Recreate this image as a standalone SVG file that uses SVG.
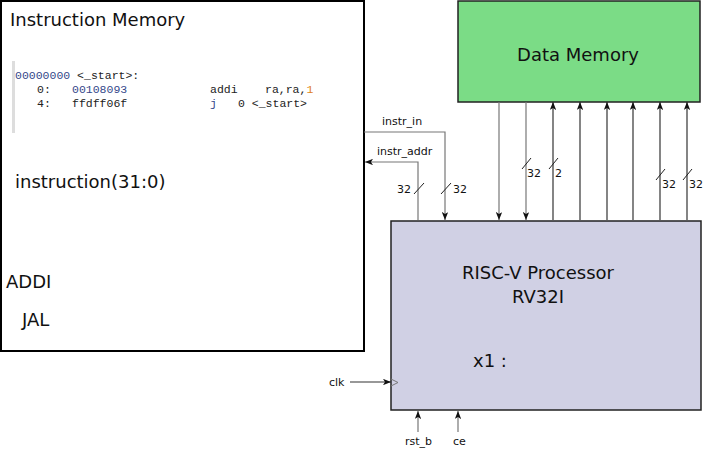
<svg xmlns="http://www.w3.org/2000/svg" width="705" height="449" viewBox="0 0 705 449">
<style>
.t{font-family:"DejaVu Sans",Verdana,sans-serif;fill:#111}
.big{font-size:18px}
.sm{font-size:11px}
.code{font-family:"Liberation Mono","DejaVu Sans Mono",monospace;font-size:11.5px;fill:#222}
.bl{fill:#34488a}
.or{fill:#e08020}
.w{fill:none;stroke:#777;stroke-width:1.2}
.wd{fill:none;stroke:#333;stroke-width:1.2}
.sl{fill:none;stroke:#222;stroke-width:1}
</style>
<defs>
<marker id="ah" viewBox="0 0 10 8" refX="10" refY="4" markerWidth="8" markerHeight="6.4" markerUnits="userSpaceOnUse" orient="auto">
<path d="M0,0 L10,4 L0,8 L2.5,4 z" fill="#111"/>
</marker>
</defs>
<rect width="705" height="449" fill="#fff"/>
<g id="instruction-memory">
<rect x="1" y="1" width="363" height="350" fill="#fff" stroke="#000" stroke-width="2"/>
<text class="t big" x="10" y="26">Instruction Memory</text>
<rect x="12" y="61" width="3" height="72" fill="#ddd"/>
<text class="code" x="15" y="79"><tspan class="bl">00000000</tspan> &lt;_start&gt;:</text>
<text class="code" x="37" y="93">0:</text>
<text class="code bl" x="72" y="93">00108093</text>
<text class="code" x="210" y="93">addi</text>
<text class="code" x="265" y="93">ra,ra,<tspan class="or">1</tspan></text>
<text class="code" x="37" y="107">4:</text>
<text class="code" x="72" y="107">ffdff06f</text>
<text class="code bl" x="210" y="107">j</text>
<text class="code" x="238" y="107">0 &lt;_start&gt;</text>
<text class="t big" x="15" y="188">instruction(31:0)</text>
<text class="t big" x="6" y="288">ADDI</text>
<text class="t big" x="22" y="326">JAL</text>
</g>
<g id="data-memory">
<rect x="458" y="1" width="242" height="101" fill="#7bdc86" stroke="#222" stroke-width="1.5"/>
<text class="t big" x="578" y="61" text-anchor="middle">Data Memory</text>
</g>
<g id="processor">
<rect x="391" y="221" width="310" height="189" fill="#d0d0e4" stroke="#222" stroke-width="1.5"/>
<text class="t big" x="538" y="279" text-anchor="middle">RISC-V Processor</text>
<text class="t big" x="538" y="303" text-anchor="middle">RV32I</text>
<text class="t big" x="473" y="367">x1 :</text>
<path d="M391,379 L398,382.5 L391,386" fill="none" stroke="#777" stroke-width="1"/>
</g>
<g id="connectors">
<path class="w" d="M364,132 H445 V220" marker-end="url(#ah)"/>
<text class="t sm" x="382" y="125">instr_in</text>
<path class="w" d="M418,220 V162 H365" marker-end="url(#ah)"/>
<text class="t sm" x="377" y="155">instr_addr</text>
<line class="sl" x1="414" y1="194" x2="424" y2="183"/>
<text class="t sm" x="397" y="193">32</text>
<line class="sl" x1="441" y1="194" x2="451" y2="183"/>
<text class="t sm" x="453" y="193">32</text>
<path class="w" d="M499,102 V220" marker-end="url(#ah)"/>
<path class="w" d="M526,102 V220" marker-end="url(#ah)"/>
<path class="wd" d="M553,220 V102" marker-end="url(#ah)"/>
<path class="wd" d="M580,220 V102" marker-end="url(#ah)"/>
<path class="wd" d="M607,220 V102" marker-end="url(#ah)"/>
<path class="wd" d="M633,220 V102" marker-end="url(#ah)"/>
<path class="wd" d="M660,220 V102" marker-end="url(#ah)"/>
<path class="wd" d="M687,220 V102" marker-end="url(#ah)"/>
<line class="sl" x1="522" y1="169" x2="531" y2="158"/>
<text class="t sm" x="527" y="177">32</text>
<line class="sl" x1="549" y1="169" x2="558" y2="158"/>
<text class="t sm" x="555" y="177">2</text>
<line class="sl" x1="656" y1="180" x2="665" y2="169"/>
<text class="t sm" x="662" y="188">32</text>
<line class="sl" x1="683" y1="180" x2="692" y2="169"/>
<text class="t sm" x="689" y="188">32</text>
<path class="wd" d="M350,382 H391" marker-end="url(#ah)"/>
<text class="t sm" x="329" y="386">clk</text>
<path class="w" d="M418,432 V411" marker-end="url(#ah)"/>
<text class="t sm" x="405" y="445">rst_b</text>
<path class="w" d="M458,432 V411" marker-end="url(#ah)"/>
<text class="t sm" x="453" y="445">ce</text>
</g>
</svg>
